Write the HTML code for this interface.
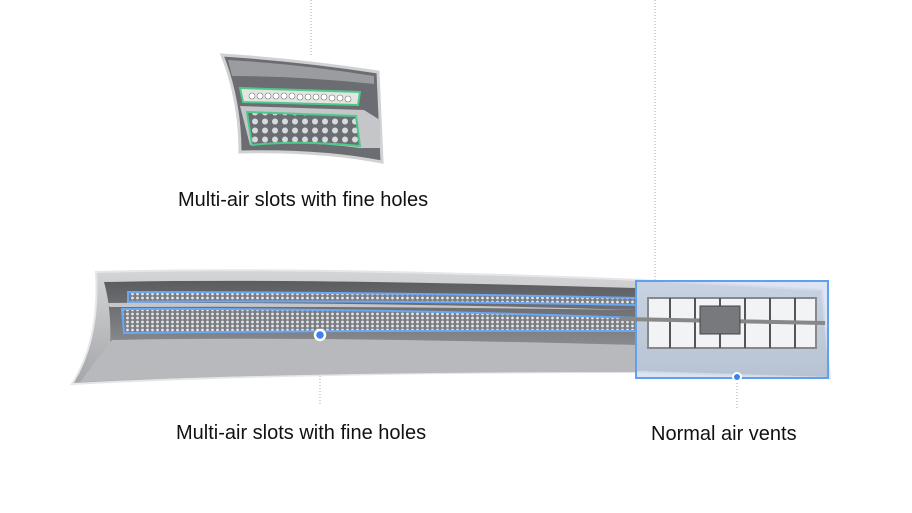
<!DOCTYPE html>
<html><head><style>
html,body{margin:0;padding:0;background:#fff;}
body{width:912px;height:513px;overflow:hidden;position:relative;font-family:"Liberation Sans",sans-serif;}
.t{position:absolute;font-size:20px;color:#111;white-space:nowrap;}
</style></head><body>
<svg width="912" height="513" style="position:absolute;left:0;top:0">
<defs>
<linearGradient id="g2" x1="0" y1="0" x2="0" y2="1">
<stop offset="0" stop-color="#d4d5d7"/><stop offset="1" stop-color="#a4a6a9"/></linearGradient>
<linearGradient id="gi" x1="0" y1="0" x2="0" y2="1">
<stop offset="0" stop-color="#5a5c60"/><stop offset="1" stop-color="#8c8e92"/></linearGradient>
<pattern id="holes" width="5" height="4" patternUnits="userSpaceOnUse"><rect width="5" height="4" fill="#7a7d82"/><circle cx="2.5" cy="2" r="1.4" fill="#e4e6e9"/></pattern>
<pattern id="holes2" width="10" height="9" patternUnits="userSpaceOnUse"><rect width="10" height="9" fill="#6a6d72"/><circle cx="5" cy="4.5" r="3" fill="#d8dadd"/></pattern>
</defs>
<g stroke="#aaa" stroke-dasharray="1,2" stroke-width="1">
<line x1="311" y1="0" x2="311" y2="55"/><line x1="655" y1="0" x2="655" y2="282"/>
<line x1="320" y1="340" x2="320" y2="405"/><line x1="737" y1="380" x2="737" y2="410"/></g>
<!-- small part -->
<path d="M222 55 Q300 60 378 72 L382 162 Q320 150 240 152 Q240 100 222 55Z" fill="#6b6d72" stroke="#d0d1d3" stroke-width="3"/>
<path d="M228 60 Q300 64 374 76 L374 84 Q300 76 232 76Z" fill="#9a9ca0"/>
<path d="M240 88 L360 92 L358 105 L243 102Z" fill="#e3e5e3" stroke="#4fc98a" stroke-width="2"/>
<g fill="#fff" stroke="#777" stroke-width="0.6"><circle cx="252" cy="96" r="3"/><circle cx="260" cy="96" r="3"/><circle cx="268" cy="96" r="3"/><circle cx="276" cy="96" r="3"/><circle cx="284" cy="96" r="3"/><circle cx="292" cy="96" r="3"/><circle cx="300" cy="97" r="3"/><circle cx="308" cy="97" r="3"/><circle cx="316" cy="97" r="3"/><circle cx="324" cy="97" r="3"/><circle cx="332" cy="98" r="3"/><circle cx="340" cy="98" r="3"/><circle cx="348" cy="99" r="3"/></g>
<path d="M240 106 L364 110 L380 120 L380 148 L360 148 Q300 140 250 145Z" fill="#c4c6c9"/>
<path d="M247 112 L356 116 L360 146 Q300 140 252 145Z" fill="url(#holes2)" stroke="#4fc98a" stroke-width="2"/>
<!-- main bar -->
<path d="M96 272 Q300 266 640 280 L822 290 L830 378 L640 372 Q300 372 72 384 Q100 340 96 272Z" fill="url(#g2)" stroke="#e6e6e8" stroke-width="2"/>
<path d="M104 282 Q300 278 636 288 L636 345 Q300 340 110 350 Q112 310 104 282Z" fill="url(#gi)"/>
<path d="M128 292 Q380 292 636 298 L636 305 Q380 300 128 302Z" fill="url(#holes)" stroke="#6aa7f5" stroke-width="2"/>
<path d="M104 303 Q380 302 636 310 L636 310 Q380 306 110 307Z" fill="#c4c6c9"/>
<path d="M122 309 Q380 308 636 318 L636 331 Q380 330 124 333Z" fill="url(#holes)" stroke="#6aa7f5" stroke-width="2"/>
<path d="M112 340 Q300 336 636 345 L636 372 Q300 372 80 382Z" fill="#b7b9bc"/>
<rect x="636" y="281" width="192" height="97" fill="#c3d3ec" fill-opacity="0.6" stroke="#5fa0ef" stroke-width="2"/>
<rect x="648" y="298" width="168" height="50" fill="#f2f3f5" stroke="#888" stroke-width="2"/>
<g stroke="#555" stroke-width="2"><line x1="670" y1="298" x2="670" y2="348"/><line x1="695" y1="298" x2="695" y2="348"/><line x1="720" y1="298" x2="720" y2="348"/><line x1="745" y1="298" x2="745" y2="348"/><line x1="770" y1="298" x2="770" y2="348"/><line x1="795" y1="298" x2="795" y2="348"/></g>
<line x1="620" y1="319" x2="825" y2="323" stroke="#888" stroke-width="4"/>
<rect x="700" y="306" width="40" height="28" fill="#77797d" stroke="#444"/>
<circle cx="320" cy="335" r="5" fill="#3b82f0" stroke="#fff" stroke-width="2.5"/>
<circle cx="737" cy="377" r="4" fill="#3b82f0" stroke="#fff" stroke-width="2"/>
</svg>
<div class="t" style="left:178px;top:189px">Multi-air slots with fine holes</div>
<div class="t" style="left:176px;top:422px">Multi-air slots with fine holes</div>
<div class="t" style="left:651px;top:423px">Normal air vents</div>
</body></html>
